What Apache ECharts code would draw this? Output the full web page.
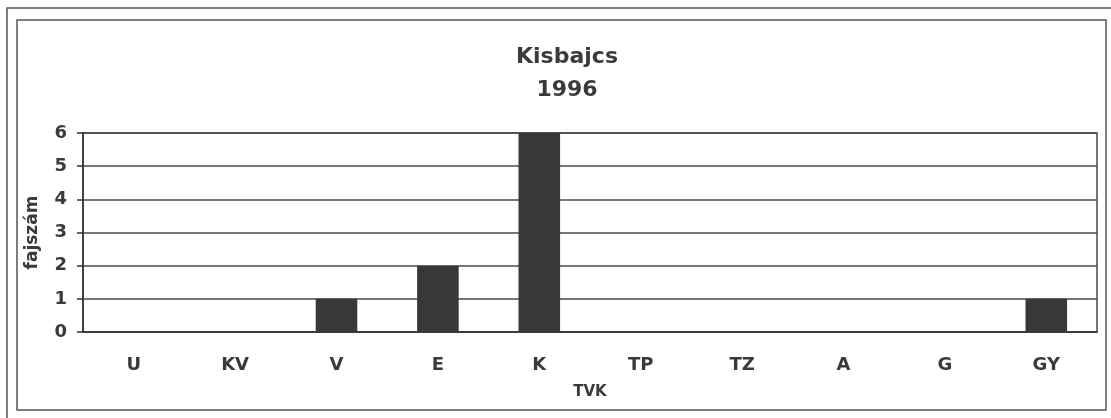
<!DOCTYPE html>
<html>
<head>
<meta charset="utf-8">
<script src="https://cdn.jsdelivr.net/npm/echarts@6/dist/echarts.min.js"></script>
<style>
  html,body{margin:0;padding:0;background:#fff;}
  #chart{width:1111px;height:418px;}
</style>
</head>
<body>
<div id="chart"></div>
<script>
// adatok
const categories = ['U','KV','V','E','K','TP','TZ','A','G','GY']
const values = [0,0,1,2,6,0,0,0,0,1]
const titleLines = ['Kisbajcs','1996']
const yTicks = {min:0, max:6, interval:1}

const textColor = '#3a3a3a'
const lineColor = '#4a4a4a'
const font = 'DejaVu Sans'

const chart = echarts.init(document.getElementById('chart'))
const option = {
  animation:false,
  backgroundColor:'#fff',
  title:{
    text:titleLines.join('\n'),
    left:562,
    top:36,
    textAlign:'center',
    textStyle:{
      fontFamily:font,
      fontWeight:'bold',
      fontSize:22,
      lineHeight:33,
      color:textColor
    }
  },
  graphic:[
    // külső keret (szkennelt)
    {type:'polyline', shape:{points:[[7,418],[7,8],[1111,8]]},
      style:{stroke:'#555',lineWidth:1.5,fill:null}},
    // belső keret
    {type:'rect', shape:{x:17,y:20,width:1089,height:390},
      style:{stroke:'#555',lineWidth:1.5,fill:null}}
  ],
  grid:{
    left:83, right:14, top:133, bottom:86,
    show:true,
    borderColor:lineColor,
    borderWidth:1.5
  },
  xAxis:[{
    type:'category',
    data:categories,
    name:'TVK',
    nameLocation:'middle',
    nameGap:53,
    nameTextStyle:{fontFamily:font,fontWeight:'bold',fontSize:15,color:textColor},
    axisLine:{lineStyle:{color:'#333',width:1.5}},
    axisTick:{length:8,lineStyle:{color:'#333',width:1.5}},
    axisLabel:{margin:24,fontFamily:font,fontWeight:'bold',fontSize:18,color:textColor}
  },{
    // a tengelyt keresztező osztásjelek belső fele
    type:'category',
    data:categories,
    position:'bottom',
    axisLine:{show:false},
    axisTick:{inside:true,length:5,lineStyle:{color:'#333',width:1.5}},
    axisLabel:{show:false}
  }],
  yAxis:{
    type:'value',
    min:yTicks.min,
    max:yTicks.max,
    interval:yTicks.interval,
    name:'fajszám',
    nameLocation:'middle',
    nameGap:42,
    nameTextStyle:{fontFamily:font,fontWeight:'bold',fontSize:17,color:textColor},
    axisLine:{show:true,lineStyle:{color:'#333',width:1.5}},
    axisTick:{show:true,length:6,lineStyle:{color:'#333',width:1.5}},
    splitLine:{lineStyle:{color:lineColor,width:1.5}},
    axisLabel:{margin:16,fontFamily:font,fontWeight:'bold',fontSize:18,color:textColor}
  },
  series:[{
    type:'bar',
    xAxisIndex:0,
    data:values,
    barWidth:'41%',
    itemStyle:{color:'#383838'}
  }]
}
chart.setOption(option)
</script>
</body>
</html>
